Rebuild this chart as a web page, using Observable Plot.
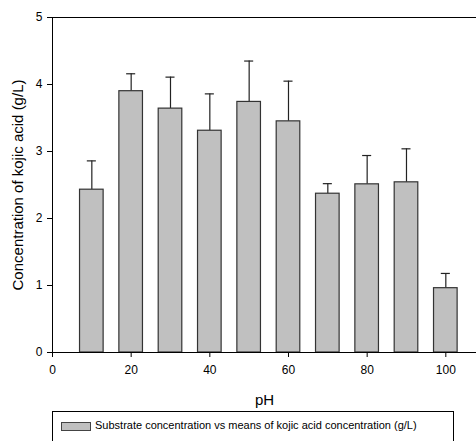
<!DOCTYPE html>
<html>
<head>
<meta charset="utf-8">
<script src="https://cdn.jsdelivr.net/npm/d3@7"></script>
<script src="https://cdn.jsdelivr.net/npm/@observablehq/plot@0.6"></script>
<style>
  html, body { margin: 0; padding: 0; background: #fff; }
  #wrap { position: relative; width: 476px; height: 441px; overflow: hidden; font-family: "Liberation Sans", Arial, sans-serif; }
  #legend { position: absolute; left: 52px; top: 411px; width: 402px; height: 40px; border: 1px solid #000; box-sizing: border-box; }
  #legend .sw { position: absolute; left: 8px; top: 10px; width: 28px; height: 7px; background: #c0c0c0; border: 1px solid #444; }
  #legend .tx { position: absolute; left: 42px; top: 7px; font-size: 11px; color: #000; white-space: nowrap; }
</style>
</head>
<body>
<div id="wrap">
  <div id="chart"></div>
  <div id="legend"><div class="sw"></div><div class="tx">Substrate concentration vs means of kojic acid concentration (g/L)</div></div>
</div>
<script>
// pH levels, mean kojic acid concentration (g/L) and error bar heights
const phLevels = [10, 20, 30, 40, 50, 60, 70, 80, 90, 100];
const means    = [2.43, 3.90, 3.64, 3.31, 3.74, 3.45, 2.37, 2.51, 2.54, 0.96];
const errors   = [0.43, 0.26, 0.47, 0.55, 0.61, 0.60, 0.15, 0.43, 0.50, 0.22];
const xTicks = [0, 20, 40, 60, 80, 100];
const yTicks = [0, 1, 2, 3, 4, 5];
const xTitle = "pH";
const yTitle = "Concentration of kojic acid (g/L)";

const rows = phLevels.map((ph, i) => ({ph, mean: means[i], err: errors[i]}));
const halfBar = 3;    // bar half-width in pH units
const halfCap = 1.15; // error cap half-width in pH units

const chart = Plot.plot({
  width: 476,
  height: 410,
  marginLeft: 52,
  marginRight: 0,
  marginTop: 17,
  marginBottom: 58,
  style: { fontFamily: "Liberation Sans, Arial, sans-serif", fontSize: "12px", color: "#000", background: "#fff" },
  x: { domain: [0, 107.8], ticks: xTicks, tickFormat: "d", tickSize: 5, tickPadding: 8, label: xTitle, labelAnchor: "center", labelArrow: "none", labelOffset: 52 },
  y: { domain: [0, 5], ticks: yTicks, tickFormat: "d", tickSize: 5, tickPadding: 5, label: yTitle, labelAnchor: "center", labelArrow: "none", labelOffset: 40 },
  marks: [
    Plot.ruleY([5], { stroke: "#000", strokeWidth: 1 }),
    Plot.ruleX(rows, { x: "ph", y1: "mean", y2: d => d.mean + d.err, stroke: "#222", strokeWidth: 1.2 }),
    Plot.ruleY(rows, { y: d => d.mean + d.err, x1: d => d.ph - halfCap, x2: d => d.ph + halfCap, stroke: "#222", strokeWidth: 1.2 }),
    Plot.rectY(rows, { x1: d => d.ph - halfBar, x2: d => d.ph + halfBar, y1: 0, y2: "mean", fill: "#c0c0c0", stroke: "#333", strokeWidth: 1.2 }),
    Plot.ruleX([0], { stroke: "#000", strokeWidth: 1 }),
    Plot.ruleY([0], { stroke: "#000", strokeWidth: 1 })
  ]
});
// axis titles are a touch larger than the tick labels
chart.querySelectorAll("text").forEach(t => {
  if (t.textContent === xTitle || t.textContent === yTitle) {
    t.setAttribute("font-size", "15px");
    t.style.fontSize = "15px";
  }
});
document.getElementById("chart").appendChild(chart);
</script>
</body>
</html>
